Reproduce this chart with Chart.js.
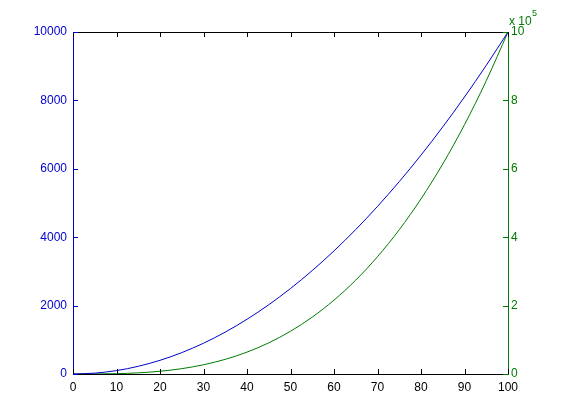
<!DOCTYPE html>
<html>
<head>
<meta charset="utf-8">
<script src="https://cdn.jsdelivr.net/npm/chart.js@4/dist/chart.umd.min.js"></script>
<style>
  html, body { margin: 0; padding: 0; background: #ffffff; }
  #wrap { width: 561px; height: 420px; }
</style>
</head>
<body>
<div id="wrap"><canvas id="myChart" width="561" height="420"></canvas></div>
<script>
// values
const xValues = [0, 5, 10, 15, 20, 25, 30, 35, 40, 45, 50, 55, 60, 65, 70, 75, 80, 85, 90, 95, 100];
const blueValues = [0, 25, 100, 225, 400, 625, 900, 1225, 1600, 2025, 2500, 3025, 3600, 4225, 4900, 5625, 6400, 7225, 8100, 9025, 10000];
const greenValues = [0, 125, 1000, 3375, 8000, 15625, 27000, 42875, 64000, 91125, 125000, 166375, 216000, 274625, 343000, 421875, 512000, 614125, 729000, 857375, 1000000];

const xTicks = [0, 10, 20, 30, 40, 50, 60, 70, 80, 90, 100];
const leftTicks = [0, 2000, 4000, 6000, 8000, 10000];
const rightTicks = [0, 200000, 400000, 600000, 800000, 1000000];

const blue = '#0000cc';
const green = '#007a00';
const tickFont = { family: 'Liberation Sans, Arial, sans-serif', size: 12 };

function points(ys) {
    return xValues.map((x, i) => ({ x: x, y: ys[i] }));
}

// MATLAB style inward tick marks, top border and the exponent label
const matlabAxes = {
    id: 'matlabAxes',
    afterDraw(chart) {
        const ctx = chart.ctx;
        const a = chart.chartArea;
        const sx = chart.scales.x, yl = chart.scales.yl, yr = chart.scales.yr;
        const len = 5;
        ctx.save();
        ctx.lineWidth = 1;

        ctx.strokeStyle = '#000000';
        ctx.beginPath();
        ctx.moveTo(a.left, a.top + 0.5);
        ctx.lineTo(a.right, a.top + 0.5);
        xTicks.forEach(v => {
            const px = Math.round(sx.getPixelForValue(v)) + 0.5;
            ctx.moveTo(px, a.bottom);
            ctx.lineTo(px, a.bottom - len);
            ctx.moveTo(px, a.top);
            ctx.lineTo(px, a.top + len);
        });
        ctx.stroke();

        ctx.strokeStyle = blue;
        ctx.beginPath();
        leftTicks.forEach(v => {
            const py = Math.round(yl.getPixelForValue(v)) + 0.5;
            ctx.moveTo(a.left, py);
            ctx.lineTo(a.left + len, py);
        });
        ctx.stroke();

        ctx.strokeStyle = green;
        ctx.beginPath();
        rightTicks.forEach(v => {
            const py = Math.round(yr.getPixelForValue(v)) + 0.5;
            ctx.moveTo(a.right, py);
            ctx.lineTo(a.right - len, py);
        });
        ctx.stroke();

        ctx.fillStyle = green;
        ctx.font = '12px Liberation Sans, Arial, sans-serif';
        ctx.textBaseline = 'alphabetic';
        ctx.textAlign = 'left';
        ctx.fillText('x 10', a.right + 1, a.top - 7);
        ctx.font = '9px Liberation Sans, Arial, sans-serif';
        ctx.fillText('5', a.right + 24, a.top - 16);
        ctx.restore();
    }
};

new Chart(document.getElementById('myChart').getContext('2d'), {
    type: 'line',
    data: {
        datasets: [{
            label: 'y1',
            data: points(blueValues),
            yAxisID: 'yl',
            borderColor: blue,
            borderWidth: 1,
            pointRadius: 0,
            fill: false,
            cubicInterpolationMode: 'monotone'
        }, {
            label: 'y2',
            data: points(greenValues),
            yAxisID: 'yr',
            borderColor: green,
            borderWidth: 1,
            pointRadius: 0,
            fill: false,
            cubicInterpolationMode: 'monotone'
        }]
    },
    options: {
        responsive: false,
        animation: false,
        layout: { padding: { top: 32, right: 0, left: 0, bottom: 0 } },
        plugins: { legend: { display: false }, tooltip: { enabled: false } },
        scales: {
            x: {
                type: 'linear',
                min: 0, max: 100,
                afterBuildTicks: s => { s.ticks = xTicks.map(v => ({ value: v })); },
                afterFit: s => { s.height = 46; },
                grid: { display: false, drawTicks: false },
                border: { color: '#000000', width: 1 },
                ticks: { color: '#000000', font: tickFont, padding: 6, maxRotation: 0 }
            },
            yl: {
                type: 'linear',
                position: 'left',
                min: 0, max: 10000,
                afterBuildTicks: s => { s.ticks = leftTicks.map(v => ({ value: v })); },
                afterFit: s => { s.width = 73; },
                grid: { display: false, drawTicks: false },
                border: { color: blue, width: 1 },
                ticks: { color: blue, font: tickFont, padding: 6, callback: v => String(v) }
            },
            yr: {
                type: 'linear',
                position: 'right',
                min: 0, max: 1000000,
                afterBuildTicks: s => { s.ticks = rightTicks.map(v => ({ value: v })); },
                afterFit: s => { s.width = 53; },
                grid: { display: false, drawTicks: false },
                border: { color: green, width: 1 },
                ticks: { color: green, font: tickFont, padding: 3, callback: v => String(v / 100000) }
            }
        }
    },
    plugins: [matlabAxes]
});
</script>
</body>
</html>
